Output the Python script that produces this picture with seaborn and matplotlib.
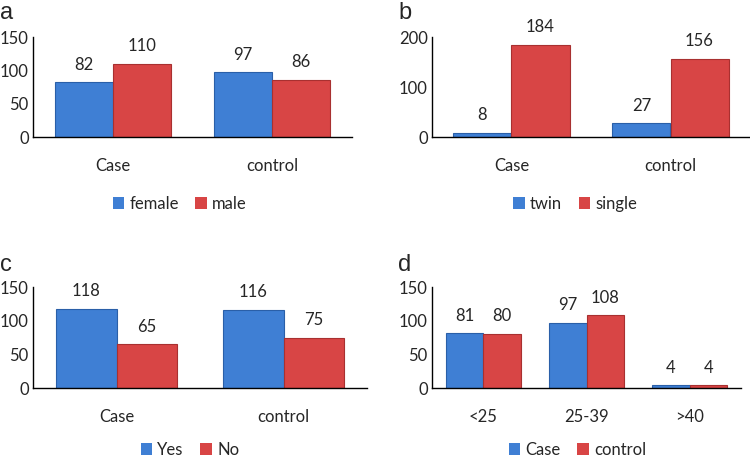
import pandas as pd
import seaborn as sns
import matplotlib.pyplot as plt

# data
groups = ["Case", "control"]
female = [82, 97]
male = [110, 86]
twin = [8, 27]
single = [184, 156]
yes = [118, 116]
no = [65, 75]
age_groups = ["<25", "25-39", ">40"]
age_case = [81, 97, 4]
age_control = [80, 108, 4]

sns.set_style("white")
plt.rcParams["font.family"] = ["Lato", "DejaVu Sans"]
plt.rcParams["font.size"] = 11

palette = ["#3f7fd4", "#d84545"]
W, H = 750, 461


def long_df(cats, names, series):
    rows = []
    for name, vals in zip(names, series):
        for c, v in zip(cats, vals):
            rows.append({"cat": c, "series": name, "value": v})
    return pd.DataFrame(rows)


def panel(box, letter, letter_xy, df, ymax, yticks, legend_x, legend_y=-0.67):
    # box in pixels: left, top, right, bottom
    l, t, r, b = box
    ax = fig.add_axes([l / W, 1 - b / H, (r - l) / W, (b - t) / H])
    sns.barplot(data=df, x="cat", y="value", hue="series", palette=palette,
                width=0.73, saturation=1, ax=ax, linewidth=0)
    for i, cont in enumerate(ax.containers):
        for p in cont:
            p.set_edgecolor(["#2a5fa8", "#a83030"][i])
            p.set_linewidth(0.8)
        ax.bar_label(cont, padding=7, fontsize=12)
    n = df["cat"].nunique()
    ax.set_xlim(-0.5, n - 0.5)
    ax.set_ylim(0, ymax)
    ax.set_yticks(yticks)
    ax.set_xlabel("")
    ax.set_ylabel("")
    sns.despine(ax=ax)
    for s in ["left", "bottom"]:
        ax.spines[s].set_color("black")
        ax.spines[s].set_linewidth(1)
    ax.tick_params(axis="x", length=0, pad=15, labelsize=12)
    ax.tick_params(axis="y", length=0, pad=3, labelsize=12)
    ax.legend(loc="center", bbox_to_anchor=(legend_x, legend_y), ncol=2,
              frameon=False, fontsize=12, handlelength=0.7, handleheight=0.7,
              handletextpad=0.3, columnspacing=1.0)
    fig.text(letter_xy[0] / W, 1 - letter_xy[1] / H, letter, fontsize=17,
             family="Liberation Sans", va="center", ha="left")
    return ax


fig = plt.figure(figsize=(7.5, 4.61), dpi=100)

panel((33, 37, 352, 137), "a", (0, 13),
      long_df(groups, ["female", "male"], [female, male]), 150, [0, 50, 100, 150], 0.46)
panel((432, 37, 750, 137), "b", (398, 13),
      long_df(groups, ["twin", "single"], [twin, single]), 200, [0, 100, 200], 0.45)
panel((33, 287, 367, 388), "c", (0, 265),
      long_df(groups, ["Yes", "No"], [yes, no]), 150, [0, 50, 100, 150], 0.47, -0.61)
panel((432, 287, 741, 388), "d", (398, 265),
      long_df(age_groups, ["Case", "control"], [age_case, age_control]), 150, [0, 50, 100, 150], 0.47, -0.61)

fig.savefig("out.png", dpi=100)
